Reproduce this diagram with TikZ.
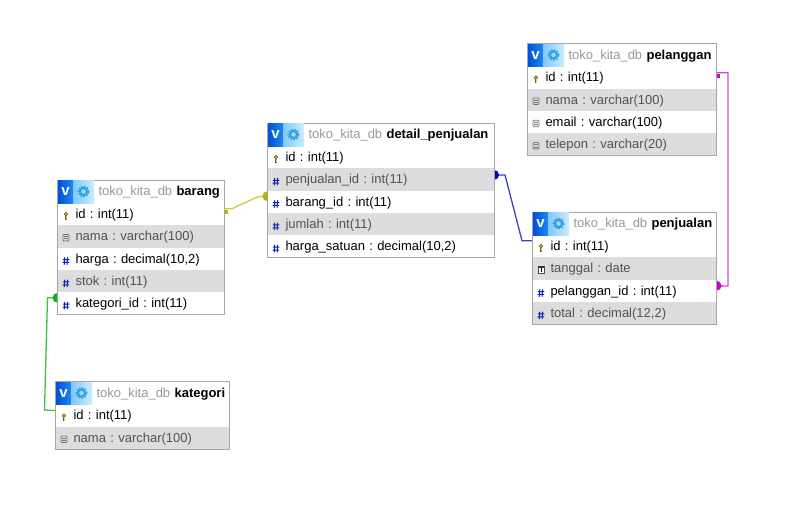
\documentclass[tikz,border=0pt]{standalone}
\usepackage{fontspec}
\setmainfont{Liberation Sans}
\usetikzlibrary{positioning,backgrounds}
\definecolor{rowgrey}{HTML}{DDDDDD}
\definecolor{edgegrey}{HTML}{A6A6A6}
\definecolor{hashblue}{HTML}{1020B0}
\definecolor{dbgrey}{HTML}{999999}
\definecolor{gearblue}{HTML}{30A0E8}
\definecolor{vleft}{HTML}{0050D8}
\definecolor{vright}{HTML}{1E88F0}
\definecolor{gearleft}{HTML}{80C8F8}
\definecolor{gearright}{HTML}{CCECFF}
\definecolor{yellowline}{HTML}{CCCC30}
\definecolor{yellowdot}{HTML}{B4B400}
\definecolor{blueline}{HTML}{4040C0}
\definecolor{bluedot}{HTML}{0000C4}
\definecolor{pinkline}{HTML}{C450CC}
\definecolor{pinkdot}{HTML}{CC00CC}
\definecolor{greenline}{HTML}{40C040}
\definecolor{greendot}{HTML}{10B020}
\definecolor{keybrown}{HTML}{6E5A10}
\definecolor{keyyellow}{HTML}{E8D060}
\tikzset{
  hdrcell/.style={minimum height=23pt,inner sep=0pt,outer sep=0pt,text width=#1,align=left,
    fill=white,text height=11pt,text depth=2.5pt,
    execute at begin node=\hspace*{41pt}},
  rowcell/.style={minimum height=22.3pt,inner sep=0pt,outer sep=0pt,text width=#1,align=left,
    fill=white,text height=11pt,text depth=2.5pt,
    execute at begin node=\hspace*{18pt}},
  rowgray/.style={rowcell=#1,fill=rowgrey,text=black!68},
  headicon/.pic={
    \shade[left color=vleft,right color=vright] (0.5,0.5) rectangle (15.5,23);
    \shade[left color=gearleft,right color=gearright] (15.5,0.5) rectangle (36.5,23);
    \node (v) at (8,12) [text=white,inner sep=0pt,font=\bfseries\fontsize{15}{15}\selectfont] {v};
    \draw[gearblue,line width=2.2pt] (26,11.5) circle (3.6pt);
    \draw[gearblue,line width=1.4pt,dash pattern=on 1.5pt off 1.6pt] (26,11.5) circle (5.4pt);
  },
  keyicon/.pic={
    \draw[keybrown,fill=keyyellow,line width=.7pt] (0,0) circle (1.7pt);
    \draw[keybrown,line width=1.9pt] (0,1.5) -- (0,5.6);
    \draw[keyyellow,line width=.7pt] (0,1.5) -- (0,5.2);
  },
  colicon/.pic={
    \draw[black!55,rounded corners=1pt,line width=.8pt] (-3,-2) rectangle (3,4.5);
    \draw[black!55,line width=.6pt] (-1.6,0) -- (1.6,0) (-1.6,2.3) -- (1.6,2.3);
  },
  numicon/.pic={
    \draw[hashblue,line width=1pt] (-1.2,-1.5) -- (-1.8,6) (1.7,-1.5) -- (1.1,6)
      (-3.2,.8) -- (3.4,.8) (-3.4,3.7) -- (3.2,3.7);
  },
  dateicon/.pic={
    \draw[black!70,line width=.8pt,fill=white] (-3,-2) rectangle (3,4.5);
    \draw[black!80,line width=1.3pt] (-3,-1.6) -- (3,-1.6);
    \draw[black,line width=.9pt] (0,-.3) -- (0,3.4);
  },
  edgebox/.style={draw=edgegrey,line width=.9pt},
  bluelink/.style={draw=blueline,line width=1.3pt},
  yellowlink/.style={draw=yellowline,line width=1.3pt},
  greenlink/.style={draw=greenline,line width=1.3pt},
  pinklink/.style={draw=pinkline,line width=1.3pt},
}
\begin{document}
\begin{tikzpicture}[x=1pt,y=-1pt,font=\fontsize{13}{15}\selectfont\frenchspacing]
\useasboundingbox (0,0) rectangle (790,504);

% pelanggan
\node (plhdr) at (527.5,43.5) [anchor=north west,hdrcell=189pt] {\textcolor{dbgrey}{toko\_kita\_db} \textbf{pelanggan}};
\node (plid) [below=0pt of plhdr,rowcell=189pt] {id : int(11)};
\node (plnama) [below=0pt of plid,rowgray=189pt] {nama : varchar(100)};
\node (plemail) [below=0pt of plnama,rowcell=189pt] {email : varchar(100)};
\node (pltelp) [below=0pt of plemail,rowgray=189pt] {telepon : varchar(20)};
\draw[edgebox] (plhdr.north west) rectangle (pltelp.south east);
\pic at (plhdr.north west) {headicon};
\pic at ([xshift=8.5pt]plid.west) {keyicon};
\pic at ([xshift=8.5pt]plnama.west) {colicon};
\pic at ([xshift=8.5pt]plemail.west) {colicon};
\pic at ([xshift=8.5pt]pltelp.west) {colicon};

% detail_penjualan
\node (dthdr) at (267.5,123) [anchor=north west,hdrcell=226.5pt] {\textcolor{dbgrey}{toko\_kita\_db} \textbf{detail\_penjualan}};
\node (dtid) [below=0pt of dthdr,rowcell=226.5pt] {id : int(11)};
\node (dtjual) [below=0pt of dtid,rowgray=226.5pt] {penjualan\_id : int(11)};
\node (dtbrg) [below=0pt of dtjual,rowcell=226.5pt] {barang\_id : int(11)};
\node (dtjml) [below=0pt of dtbrg,rowgray=226.5pt] {jumlah : int(11)};
\node (dtharga) [below=0pt of dtjml,rowcell=226.5pt] {harga\_satuan : decimal(10,2)};
\draw[edgebox] (dthdr.north west) rectangle (dtharga.south east);
\pic at (dthdr.north west) {headicon};
\pic at ([xshift=8.5pt]dtid.west) {keyicon};
\pic at ([xshift=8.5pt]dtjual.west) {numicon};
\pic at ([xshift=8.5pt]dtbrg.west) {numicon};
\pic at ([xshift=8.5pt]dtjml.west) {numicon};
\pic at ([xshift=8.5pt]dtharga.west) {numicon};

% barang
\node (brhdr) at (57.5,180) [anchor=north west,hdrcell=167pt] {\textcolor{dbgrey}{toko\_kita\_db} \textbf{barang}};
\node (brid) [below=0pt of brhdr,rowcell=167pt] {id : int(11)};
\node (brnama) [below=0pt of brid,rowgray=167pt] {nama : varchar(100)};
\node (brharga) [below=0pt of brnama,rowcell=167pt] {harga : decimal(10,2)};
\node (brstok) [below=0pt of brharga,rowgray=167pt] {stok : int(11)};
\node (brkat) [below=0pt of brstok,rowcell=167pt] {kategori\_id : int(11)};
\draw[edgebox] (brhdr.north west) rectangle (brkat.south east);
\pic at (brhdr.north west) {headicon};
\pic at ([xshift=8.5pt]brid.west) {keyicon};
\pic at ([xshift=8.5pt]brnama.west) {colicon};
\pic at ([xshift=8.5pt]brharga.west) {numicon};
\pic at ([xshift=8.5pt]brstok.west) {numicon};
\pic at ([xshift=8.5pt]brkat.west) {numicon};

% penjualan
\node (pjhdr) at (532.5,212) [anchor=north west,hdrcell=184pt] {\textcolor{dbgrey}{toko\_kita\_db} \textbf{penjualan}};
\node (pjid) [below=0pt of pjhdr,rowcell=184pt] {id : int(11)};
\node (pjtgl) [below=0pt of pjid,rowgray=184pt] {tanggal : date};
\node (pjpel) [below=0pt of pjtgl,rowcell=184pt] {pelanggan\_id : int(11)};
\node (pjtot) [below=0pt of pjpel,rowgray=184pt] {total : decimal(12,2)};
\draw[edgebox] (pjhdr.north west) rectangle (pjtot.south east);
\pic at (pjhdr.north west) {headicon};
\pic at ([xshift=8.5pt]pjid.west) {keyicon};
\pic at ([xshift=8.5pt]pjtgl.west) {dateicon};
\pic at ([xshift=8.5pt]pjpel.west) {numicon};
\pic at ([xshift=8.5pt]pjtot.west) {numicon};

% kategori
\node (kthdr) at (55.5,381.5) [anchor=north west,hdrcell=174pt] {\textcolor{dbgrey}{toko\_kita\_db} \textbf{kategori}};
\node (ktid) [below=0pt of kthdr,rowcell=174pt] {id : int(11)};
\node (ktnama) [below=0pt of ktid,rowgray=174pt] {nama : varchar(100)};
\draw[edgebox] (kthdr.north west) rectangle (ktnama.south east);
\pic at (kthdr.north west) {headicon};
\pic at ([xshift=8.5pt]ktid.west) {keyicon};
\pic at ([xshift=8.5pt]ktnama.west) {colicon};

% relations
\begin{scope}[on background layer]
\coordinate (a1) at ([yshift=5.5pt]brid.east);
\coordinate (a2) at ([yshift=5.5pt]dtbrg.west);
\draw[yellowlink] (a1) -- (232,208.7) -- (258,196.7) -- (a2);
\fill[yellowdot] ([yshift=-1.8pt]a1) rectangle ++(3.6,3.6);
\fill[yellowdot] (a2) circle (5pt);

\coordinate (b1) at ([yshift=4.5pt]dtjual.east);
\coordinate (b2) at ([yshift=5.5pt]pjid.west);
\draw[bluelink] (b1) -- (505,175) -- (522,240.7) -- (b2);
\fill[bluedot] (b1) circle (5pt);

\coordinate (c1) at ([yshift=5pt]plid.east);
\coordinate (c2) at ([yshift=5pt]pjpel.east);
\draw[pinklink] (c1) -| (728,286) -- (c2);
\fill[pinkdot] ([yshift=-1.8pt]c1) rectangle ++(3.6,3.6);
\fill[pinkdot] (c2) circle (5pt);

\coordinate (d1) at ([yshift=5.5pt]brkat.west);
\coordinate (d2) at ([yshift=5pt]ktid.west);
\draw[greenlink] (d1) -- (47.5,297.7) -- (44.5,410) -- (d2);
\fill[greendot] (d1) circle (5pt);
\end{scope}
\end{tikzpicture}
\end{document}
